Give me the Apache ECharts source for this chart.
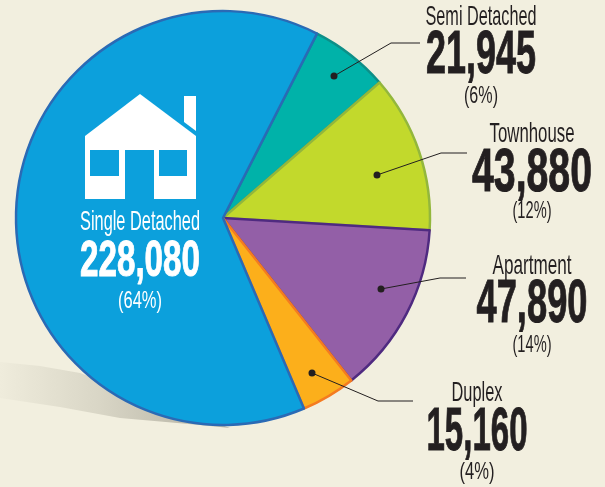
<!DOCTYPE html>
<html><head><meta charset="utf-8">
<style>html,body{margin:0;padding:0;background:#f2efdf}#c{width:605px;height:487px}</style>
<script src="https://cdn.jsdelivr.net/npm/echarts@6/dist/echarts.min.js"></script>
</head><body><div id="c"></div>
<script>
const categories = ['Semi Detached','Townhouse','Apartment','Duplex','Single Detached'];
const values = [21945,43880,47890,15160,228080];
const percents = ['(6%)','(12%)','(14%)','(4%)','(64%)'];
const fills = ['#00b2a9','#c2d92c','#935fa7','#fcaf1b','#0ca0dc'];
const borders = ['#0d8f88','#93b73c','#4f2a80','#f47b20','#2a6ab5'];
const BG = '#f2efdf', INK = '#231f20';
const FONT = '"Liberation Sans Narrow","Liberation Sans",sans-serif';
// label block layout: centre x, centre y of name / number / pct, target widths
const blocks = [
 {cx:481, n:17, v:56, p:96, wn:111, wv:110, wp:34, c:INK},
 {cx:532, n:134, v:174, p:211, wn:85, wv:120, wp:39, c:INK},
 {cx:532, n:266, v:305, p:345, wn:79, wv:111, wp:39, c:INK},
 {cx:477, n:393, v:433, p:472, wn:51, wv:101, wp:35, c:INK},
 {cx:140, n:222, v:262, p:301, wn:120, wv:120, wp:44, c:'#fff'}
];
const leaders = [
 [[334,76],[391,43],[420,43]],
 [[377,175],[441,153],[467,153]],
 [[381,289],[440,278],[466,278]],
 [[312,373],[378,401],[413,401]]
];
const ctx = document.createElement('canvas').getContext('2d');
const txt = (s,x,y,size,weight,w,fill,sw) => {
  const font=`${weight} ${size}px ${FONT}`; ctx.font=font;
  return {type:'text',x,y,scaleX:w/ctx.measureText(s).width,z:20,silent:true,
  style:{text:s,x:0,y:0,align:'center',verticalAlign:'middle',fill,font,stroke:sw?fill:null,lineWidth:sw||0}};
};
const g = [];
// ground shadow
g.push({type:'polygon',z:-1,silent:true,shape:{points:[[0,362],[40,366],[80,373],[140,395],[230,428],[200,425],[120,418],[60,407],[0,398]]},
  style:{fill:{type:'linear',x:0,y:0,x2:1,y2:0,colorStops:[{offset:0,color:'#efecdc'},{offset:0.43,color:'#d9d6c6'},{offset:0.75,color:'#c2bfb0'},{offset:1,color:'#b5b2a3'}]}}});
// house
const white='#fff', blue=fills[4];
g.push({type:'polygon',z:15,silent:true,shape:{points:[[85,136],[140,94],[196,136],[196,199],[85,199]]},style:{fill:white}});
g.push({type:'polygon',z:15,silent:true,shape:{points:[[184,96],[196,96],[196,131],[184,122]]},style:{fill:white}});
g.push({type:'rect',z:16,silent:true,shape:{x:90,y:150,width:29,height:26},style:{fill:blue}});
g.push({type:'rect',z:16,silent:true,shape:{x:159,y:150,width:28,height:26},style:{fill:blue}});
g.push({type:'rect',z:16,silent:true,shape:{x:125,y:150,width:29,height:49},style:{fill:blue}});
// leaders
leaders.forEach(l=>{
 g.push({type:'polyline',z:18,silent:true,shape:{points:l},style:{stroke:INK,lineWidth:1,fill:null}});
 g.push({type:'circle',z:18,silent:true,shape:{cx:l[0][0],cy:l[0][1],r:3.5},style:{fill:INK}});
});
// text
categories.forEach((name,i)=>{
 const b=blocks[i];
 g.push(txt(name,b.cx,b.n,28,'normal',b.wn,b.c));
 g.push(txt(values[i].toLocaleString('en-US'),b.cx,b.v,i===4?50:62,'bold',b.wv,b.c,1));
 g.push(txt(percents[i],b.cx,b.p,24,'normal',b.wp,b.c));
});
const chart = echarts.init(document.getElementById('c'),null,{renderer:'canvas'});
chart.setOption({
 animation:false, backgroundColor:BG,
 series:[{type:'pie',center:[223,218],radius:[0,207],startAngle:63,clockwise:true,silent:true,
  label:{show:false},labelLine:{show:false},
  data:categories.map((name,i)=>({name,value:values[i],itemStyle:{color:fills[i],borderColor:borders[i],borderWidth:2.5,borderJoin:'round'}}))}],
 graphic:{elements:g}
});
</script></body></html>
